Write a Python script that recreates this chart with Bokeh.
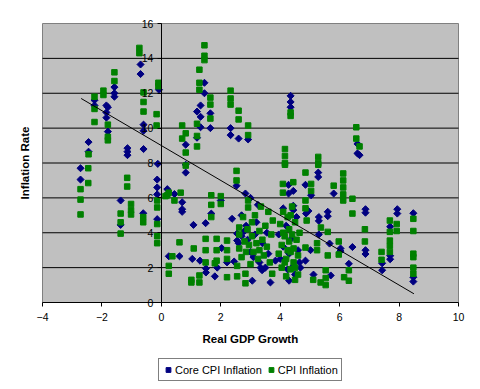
import math
from bokeh.plotting import figure
from bokeh.models import FixedTicker, Label, Legend, LegendItem
from bokeh.embed import file_html
from bokeh.resources import INLINE

# ---- data ----
core_x = [-0.7, -0.7, -1.58, -1.58, -1.58, -2.25, -2.25, -1.85, -1.8, -1.85, -1.85, -1.8,
          -2.45, -2.45, -1.14, -1.14, -1.14, -0.6, -0.6, -0.6, -0.08, -0.12,
          1.45, 1.45, 1.65, 1.65, 1.32, 1.32, 1.32, 1.2, 1.2, 0.82, 0.82,
          2.33, 2.33, 2.6, 2.92, 4.35, 4.35, 4.35, 6.6, 6.6, 6.67,
          -2.72, -2.72, -1.37, -1.37, -0.61, -0.14, -0.14, -0.14, -0.14, 0.82,
          0.2, 0.44, 0.7, 0.7, 0.7, 1.08, 1.49, 1.68, 2.0, 2.53, 2.83,
          0.25, 0.61, 1.04, 1.3, 1.5, 1.5, 1.8, 1.88, 2.03, 2.21, 2.38, 2.55, 2.55, 3.06,
          4.85, 5.28, 5.28, 4.28, 4.28, 4.44, 5.04, 5.8,
          4.87, 5.6, 5.6, 5.3, 5.3, 5.3, 5.66, 6.03, 6.03, 4.85, 5.12, 5.7, 4.3, 3.67, 3.39,
          4.95, 4.44, 4.44, 5.02, 4.68, 3.34, 3.84,
          6.87, 6.87, 6.87, 6.87, 6.43, 6.31, 7.94, 7.94, 7.7, 7.7, 7.7, 7.43, 7.43,
          8.48, 8.48, 8.48,
          2.45, 2.6, 2.7, 2.8, 2.85, 2.9, 3.0, 3.1, 3.15, 3.2, 3.3, 3.4, 3.5, 3.55, 3.6,
          3.0, 3.25, 2.7,
          3.95, 4.0, 4.1, 4.2, 4.25, 4.3, 4.4, 4.45, 4.55, 4.6, 4.65, 4.1, 4.5]
core_y = [13.65, 13.1, 12.35, 12.0, 11.8, 11.6, 11.3, 11.3, 11.2, 10.9, 10.6, 9.8,
          9.2, 8.65, 8.85, 8.65, 8.45, 8.8, 10.2, 9.85, 12.2, 7.95,
          12.6, 12.0, 10.85, 10.0, 11.3, 10.65, 10.05, 10.95, 9.45, 9.05, 7.45,
          10.0, 9.6, 9.4, 9.35, 11.85, 11.5, 11.2, 9.1, 8.55, 8.45,
          7.7, 7.05, 5.85, 4.45, 5.12, 7.05, 6.6, 6.2, 4.78, 7.9,
          6.5, 6.22, 5.75, 5.35, 5.2, 4.45, 4.55, 5.1, 5.85, 6.7, 6.25,
          2.65, 2.65, 2.5, 2.4, 1.95, 1.72, 1.5, 2.0, 3.12, 2.3, 4.8, 3.95, 3.55, 1.25,
          6.75, 7.45, 7.2, 6.75, 6.25, 6.4, 6.15, 6.25,
          5.1, 5.2, 4.95, 4.9, 4.68, 3.9, 3.38, 3.1, 2.95, 2.4, 1.6, 1.55, 1.25, 1.15, 1.85,
          5.25, 5.55, 5.3, 3.0, 2.0, 2.0, 2.4,
          5.35, 5.15, 3.0, 2.78, 3.18, 2.22, 5.35, 5.1, 4.35, 2.68, 2.48, 2.25, 1.85,
          5.12, 1.45, 1.2,
          2.35, 3.4, 3.8, 4.1, 4.4, 3.6, 2.9, 2.6, 3.9, 4.6, 2.3, 3.4, 2.0, 4.0, 2.8,
          6.0, 5.6, 5.0,
          3.9, 2.5, 3.2, 4.4, 1.9, 2.8, 3.7, 2.1, 4.9, 3.0, 2.3, 5.4, 1.6]

cpi_x = [-0.74, -0.74, -1.58, -1.58, -1.95, -1.95, -2.25, -2.25, -2.25, -1.8, -1.8, -1.8,
         -2.45, -0.6, -0.6, -0.6, -0.16, -0.16, -0.1, -0.1,
         1.45, 1.45, 1.45, 1.28, 1.28, 1.28, 1.65, 1.65, 1.65, 1.2, 1.2, 1.2,
         0.7, 0.7, 0.82, 0.82, 0.82, 2.33, 2.33, 2.33, 2.6, 2.6, 2.92, 2.92,
         4.35, 4.35, 4.16, 4.16, 4.16, 4.16, 5.28, 5.28, 5.28, 6.56, 6.56, 6.67,
         -2.46, -2.46, -2.72, -2.72, -2.72, -1.15, -1.15, -1.37, -1.37, -1.37,
         -1.02, -1.02, -1.02, -0.61, -0.61, -0.14, -0.14, -0.14, -0.14, -0.14,
         0.14, 0.2, 0.25, 0.44, 0.65, 1.68, 1.68, 1.68, 2.0, 2.0, 2.53, 2.53, 2.92, 2.92,
         0.25, 0.25, 0.37, 0.61, 1.09, 1.01, 1.01, 1.28, 1.28, 1.49, 1.49, 1.49,
         1.86, 1.86, 1.86, 1.8, 2.21, 2.21, 2.21, 2.21, 2.55, 2.55, 2.83, 2.83,
         4.09, 4.09, 4.44, 5.04, 5.04, 5.8, 6.12, 6.12, 6.12, 6.12, 6.12, 4.85,
         4.85, 4.85, 4.89, 5.37, 5.6, 5.24, 5.24, 5.6, 5.97, 5.97, 4.85, 5.11, 5.36,
         5.53, 5.53, 5.53, 6.15, 3.73,
         6.43, 6.43, 6.85, 6.85, 6.31, 6.31, 7.69, 7.69, 7.69, 7.92, 7.92, 7.69, 7.69,
         7.41, 7.41, 8.48, 8.48, 8.48, 8.48, 8.48, 8.48,
         2.62, 2.62, 2.62, 2.7, 2.75, 2.8, 2.85, 2.9, 2.95, 3.0, 3.05, 3.05, 3.1, 3.15,
         3.2, 3.25, 3.3, 3.3, 3.35, 3.4, 3.45, 3.5, 3.55, 3.6, 3.65, 3.7, 3.75,
         3.95, 4.0, 4.05, 4.05, 4.1, 4.15, 4.2, 4.2, 4.25, 4.3, 4.3, 4.35, 4.35, 4.4,
         4.4, 4.45, 4.45, 4.5, 4.5, 4.55, 4.6, 4.6, 4.25, 4.15, 4.1, 4.35, 4.5, 4.65]
cpi_y = [14.6, 14.3, 13.2, 12.7, 12.15, 11.9, 11.8, 11.1, 10.35, 10.2, 9.5, 9.3,
         8.5, 12.05, 11.5, 10.95, 10.8, 10.15, 12.6, 12.4,
         14.75, 14.15, 13.9, 13.35, 12.6, 12.2, 11.75, 11.35, 10.55, 10.25, 9.55, 8.95,
         10.15, 9.4, 9.7, 8.6, 7.85, 12.15, 11.7, 11.35, 11.0, 10.5, 10.15, 9.6,
         10.9, 10.7, 8.8, 8.4, 8.0, 7.9, 8.35, 8.0, 7.9, 10.05, 9.4, 8.95,
         7.7, 6.85, 6.5, 5.9, 5.05, 7.15, 6.65, 5.1, 4.6, 3.95,
         5.65, 5.3, 5.05, 4.9, 4.6, 5.85, 5.45, 4.5, 3.8, 3.4,
         6.1, 6.15, 6.3, 5.85, 6.3, 6.15, 5.6, 4.9, 6.1, 5.65, 7.55, 7.0, 5.85, 5.45,
         2.1, 1.65, 2.65, 3.45, 3.1, 1.15, 1.3, 1.55, 1.15, 3.65, 3.0, 2.3,
         3.65, 3.0, 2.4, 2.25, 3.55, 3.0, 2.5, 1.45, 1.5, 2.1, 1.65, 1.1,
         6.8, 6.3, 6.9, 6.8, 6.4, 6.7, 7.4, 7.0, 6.6, 6.2, 5.85, 7.45,
         5.85, 5.4, 4.7, 4.3, 4.05, 3.4, 3.0, 2.7, 3.5, 2.75, 3.15, 1.3, 1.15,
         1.85, 1.4, 1.0, 1.45, 1.65,
         5.95, 5.1, 4.2, 3.5, 1.85, 1.25, 4.7, 4.05, 3.55, 4.5, 4.1, 3.25, 2.9,
         2.9, 2.45, 4.8, 4.1, 2.8, 2.6, 2.0, 1.65,
         4.3, 3.9, 3.1, 2.6, 4.9, 3.5, 2.9, 4.2, 3.3, 2.2, 4.6, 3.8, 2.9, 5.0,
         3.4, 2.5, 4.1, 3.0, 5.5, 3.6, 2.7, 4.4, 3.2, 5.2, 2.3, 3.9, 4.7,
         2.8, 4.5, 3.3, 2.0, 5.2, 3.8, 2.5, 1.5, 4.9, 4.2, 3.5, 2.9, 1.9, 5.5,
         3.9, 3.1, 2.3, 4.6, 1.3, 3.6, 2.7, 1.6, 3.0, 2.3, 4.0, 5.0, 2.0, 4.0]

trend_x = [-2.7, 8.5]
trend_y = [11.7, 0.5]

x_ticks = [-4, -2, 0, 2, 4, 6, 8, 10]
y_ticks = [0, 2, 4, 6, 8, 10, 12, 14, 16]
grid_ticks = [2, 4, 6, 8, 10, 12, 14]

FONT = "Liberation Sans"

# plot area: x -4..10 spans 416 px, y 0..16 spans 279 px; the frame is widened
# so that the axes, titles and legend around the plot area all fit inside it
XPX = 416 / (x_ticks[-1] - x_ticks[0])
YPX = 279 / (y_ticks[-1] - y_ticks[0])
x_range = (x_ticks[0] - 37 / XPX, x_ticks[-1] + 15 / XPX)
y_range = (y_ticks[0] - 80 / YPX, y_ticks[-1] + 18 / YPX)

p = figure(frame_width=468, frame_height=377, x_range=x_range, y_range=y_range,
           output_backend="svg", toolbar_location=None,
           min_border_left=5, min_border_right=6, min_border_top=5, min_border_bottom=6)
p.styles = {"outline": "1px solid black", "outline-offset": "-4px"}
p.background_fill_color = "white"
p.border_fill_color = "white"
p.outline_line_color = None
p.xgrid.visible = False
p.ygrid.visible = False

# grey plot area
p.quad(left=[x_ticks[0]], right=[x_ticks[-1]], bottom=[y_ticks[0]], top=[y_ticks[-1]],
       fill_color="#C0C0C0", line_color="#808080", line_width=1)
# horizontal gridlines
p.segment(x0=[x_ticks[0]] * len(grid_ticks), x1=[x_ticks[-1]] * len(grid_ticks),
          y0=grid_ticks, y1=grid_ticks, line_color="black", line_width=1)

# x axis at y = 0
xa = p.xaxis[0]
xa.fixed_location = 0
xa.bounds = (x_ticks[0], x_ticks[-1])
xa.ticker = FixedTicker(ticks=x_ticks)
xa.axis_line_color = "black"
xa.major_tick_line_color = "black"
xa.major_tick_out = 4
xa.major_tick_in = 0
xa.minor_tick_line_color = None
xa.major_label_text_font = FONT
xa.major_label_text_font_size = "10.5px"
xa.major_label_text_color = "black"
xa.major_label_standoff = 6
xa.axis_label = "Real GDP Growth"
xa.axis_label_text_font = FONT
xa.axis_label_text_font_size = "11.5px"
xa.axis_label_text_font_style = "bold"
xa.axis_label_text_color = "black"
xa.axis_label_standoff = 9

# y axis at x = 0
ya = p.yaxis[0]
ya.fixed_location = 0
ya.bounds = (y_ticks[0], y_ticks[-1])
ya.ticker = FixedTicker(ticks=y_ticks)
ya.axis_line_color = "black"
ya.major_tick_line_color = "black"
ya.major_tick_out = 4
ya.major_tick_in = 0
ya.minor_tick_line_color = None
ya.major_label_text_font = FONT
ya.major_label_text_font_size = "10.5px"
ya.major_label_text_color = "black"
ya.major_label_standoff = 4

r1 = p.scatter(core_x, core_y, marker="square", angle=math.pi / 4, size=5, color="#000080")
r2 = p.scatter(cpi_x, cpi_y, marker="square", size=5.5, color="#008000")
p.line(trend_x, trend_y, line_color="black", line_width=1)

p.add_layout(Label(x=x_ticks[0], y=(y_ticks[0] + y_ticks[-1]) / 2, x_offset=-18,
                   text="Inflation Rate", angle=90, angle_units="deg",
                   text_align="center", text_baseline="middle", text_font=FONT,
                   text_font_size="11.5px", text_font_style="bold", text_color="black"))

legend = Legend(items=[LegendItem(label="Core CPI Inflation", renderers=[r1]),
                       LegendItem(label="CPI Inflation", renderers=[r2])],
                orientation="horizontal", location=(153, 1), margin=0, padding=3,
                spacing=3, glyph_width=12, glyph_height=15, label_height=15,
                label_standoff=1, label_text_font=FONT, label_text_font_size="11px",
                label_text_color="black", border_line_color="black", border_line_width=1,
                background_fill_color="white", background_fill_alpha=1.0)
p.add_layout(legend)

open("out.html", "w").write(file_html(p, INLINE))
